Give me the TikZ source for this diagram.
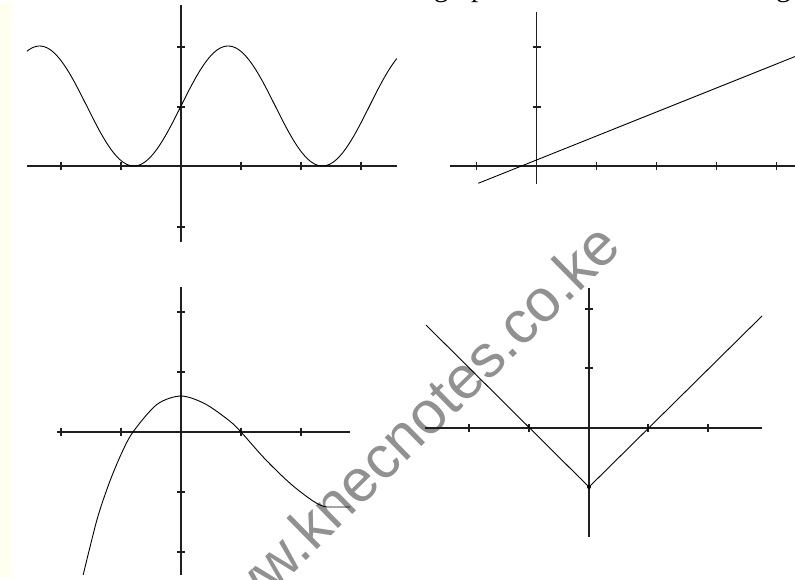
\documentclass[tikz,border=0pt]{standalone}
\usepackage{fontspec}
\setmainfont{Liberation Serif}
\newfontfamily\wmfont{Liberation Sans}
\definecolor{wmgray}{RGB}{145,145,145}
\definecolor{paleyellow}{RGB}{255,255,240}
\begin{document}
\begin{tikzpicture}[x=1pt,y=-1pt,
  axis/.style={line width=1.6pt, black!88},
  tickmark/.style={line width=1.3pt, black!88},
  curve/.style={line width=0.9pt, black, line join=round},
  wm/.style={font=\wmfont\fontsize{60}{62}\selectfont, text=wmgray, inner sep=0pt, anchor=base, rotate=44.5},
  toptext/.style={font=\fontsize{29}{30}\selectfont, inner sep=0pt}]
\useasboundingbox (0,0) rectangle (795,580);
\fill[white] (0,0) rectangle (795,580);
\fill[paleyellow] (0,3) rectangle (12,578);

% cut-off text line at the very top (only descenders show)
\begin{scope}
\clip (0,0) rectangle (795,580);
\node[toptext, anchor=base west] (t1) at (434,-3) {graph};
\node[toptext, anchor=base east] (t2) at (791,-3) {following};
\end{scope}

% watermark
\node[wm] (wmk) at (418,451) {www.knecnotes.co.ke};

% ---- panel 1: y = 1 + sin 2x
\coordinate (O1) at (181,166);
\draw[axis] (27,166) -- (397,166);
\draw[axis] (181,5) -- (181,242);
\foreach \x in {61,121,241,301,361} \draw[tickmark] (\x,162) -- (\x,170);
\foreach \y in {47,107,227} \draw[tickmark] (177,\y) -- (185,\y);
\draw[curve, domain=-2.567:3.6, samples=160, smooth]
  plot ({181+60*\x},{166-60*(1+sin(2*\x r))});

% ---- panel 2: straight line
\coordinate (O2) at (536.5,166);
\draw[axis] (450,166) -- (795,166);
\draw[axis] (536.5,12) -- (536.5,184);
\foreach \x in {476.5,596.5,656.5,716.5,776.5} \draw[tickmark] (\x,162) -- (\x,170);
\foreach \y in {47,107} \draw[tickmark] (532.5,\y) -- (540.5,\y);
\coordinate (L1) at ({536.5-60*0.97},{166-60*(0.1-0.4*0.97)});
\coordinate (L2) at (795,{166-60*(0.1+0.4*4.31)});
\draw[curve] (L1) -- (L2);

% ---- panel 3: cubic-like curve
\coordinate (O3) at (181,432);
\draw[axis] (57,432) -- (350,432);
\draw[axis] (181,287) -- (181,575);
\foreach \x in {61,121,241,301} \draw[tickmark] (\x,428) -- (\x,436);
\foreach \y in {312,372,492,552} \draw[tickmark] (177,\y) -- (185,\y);
\draw[curve] plot[smooth] coordinates {
  (83.2,574.8) (97,519.6) (109,483.6) (121,454.5) (133,432) (157,404.4)
  (181,396) (205,403.8) (229,420.5) (241,432) (265,459) (289,482.4)
  (307,496.8) (319,504.6) (326.8,507)}
  -- (350,507);

% ---- panel 4: y = |x| - 1
\coordinate (O4) at (589,428);
\draw[axis] (425,428) -- (762,428);
\draw[axis] (589,288) -- (589,537);
\foreach \x in {469,529,648,708} \draw[tickmark] (\x,424) -- (\x,432);
\foreach \y in {309,368} \draw[tickmark] (585,\y) -- (593,\y);
\coordinate (VL) at (426,325);
\coordinate (VB) at (589,487);
\coordinate (VR) at (762,316);
\draw[curve] (VL) -- (VB) -- (VR);
\fill (VB) circle (2pt);
\end{tikzpicture}
\end{document}
